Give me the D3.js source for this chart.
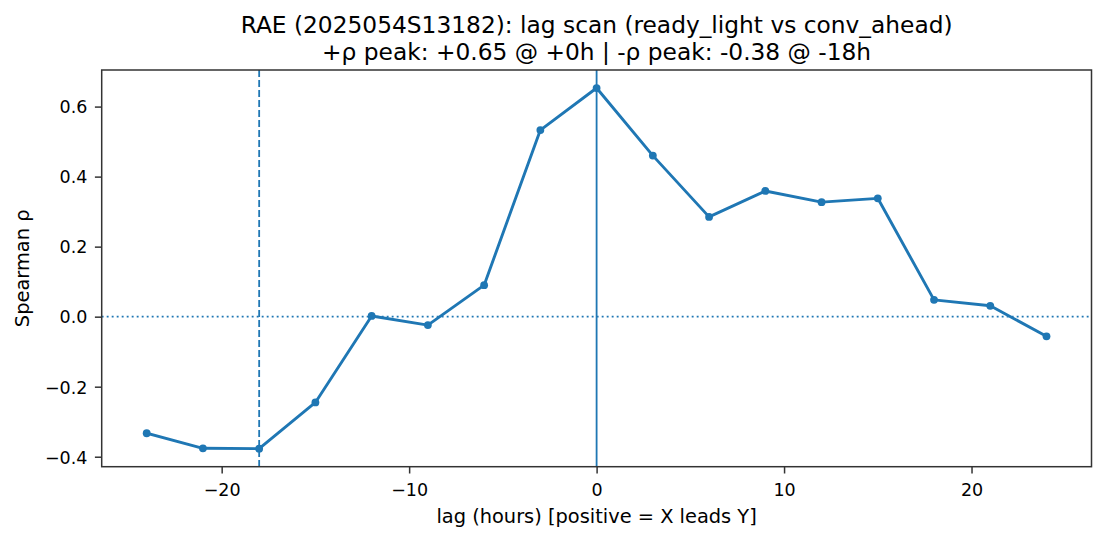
<!DOCTYPE html>
<html>
<head>
<meta charset="utf-8">
<script src="https://cdn.jsdelivr.net/npm/d3@7"></script>
<style>
  html, body { margin: 0; padding: 0; background: #fff; }
  svg { display: block; font-family: "DejaVu Sans", sans-serif; }
</style>
</head>
<body>
<svg id="chart" width="1105" height="540"></svg>
<script>
// ---- data ----
const lags = [-24, -21, -18, -15, -12, -9, -6, -3, 0, 3, 6, 9, 12, 15, 18, 21, 24];
const rho = [-0.333, -0.376, -0.377, -0.245, 0.002, -0.024, 0.090, 0.533, 0.653,
             0.460, 0.285, 0.359, 0.327, 0.338, 0.048, 0.031, -0.056];
const xTicks = [-20, -10, 0, 10, 20];
const yTicks = [-0.4, -0.2, 0.0, 0.2, 0.4, 0.6];
const posPeakLag = 0;
const negPeakLag = -18;
const titleLines = [
  "RAE (2025054S13182): lag scan (ready_light vs conv_ahead)",
  "+\u03c1 peak: +0.65 @ +0h | -\u03c1 peak: -0.38 @ -18h"
];
const xLabel = "lag (hours) [positive = X leads Y]";
const yLabel = "Spearman \u03c1";

// ---- layout ----
const W = 1105, H = 540;
const L = 101.7, R = 1091.5, T = 70, B = 466.7;
const blue = "#1f77b4";
const axisCol = "#333333";

const svg = d3.select("#chart");

function padDomain(vals) {
  const [lo, hi] = d3.extent(vals);
  const m = (hi - lo) * 0.05;
  return [lo - m, hi + m];
}

const x = d3.scaleLinear().domain(padDomain(lags)).range([L, R]);
const y = d3.scaleLinear().domain(padDomain(rho)).range([B, T]);

const fmtMinus = s => s.replace("-", "\u2212");

svg.append("defs").append("clipPath").attr("id", "clip")
  .append("rect").attr("x", L).attr("y", T).attr("width", R - L).attr("height", B - T);

const plot = svg.append("g").attr("clip-path", "url(#clip)");

// reference lines
plot.append("line")
  .attr("x1", L).attr("x2", R).attr("y1", y(0)).attr("y2", y(0))
  .attr("stroke", blue).attr("stroke-width", 1.7)
  .attr("stroke-dasharray", "1.9,3.1");

plot.append("line")
  .attr("x1", x(posPeakLag)).attr("x2", x(posPeakLag)).attr("y1", T).attr("y2", B)
  .attr("stroke", blue).attr("stroke-width", 1.8);

plot.append("line")
  .attr("x1", x(negPeakLag)).attr("x2", x(negPeakLag)).attr("y1", T).attr("y2", B)
  .attr("stroke", blue).attr("stroke-width", 1.8)
  .attr("stroke-dasharray", "7,3");

// data line
const line = d3.line().x((d, i) => x(lags[i])).y(d => y(d));
plot.append("path").datum(rho)
  .attr("d", line)
  .attr("fill", "none")
  .attr("stroke", blue)
  .attr("stroke-width", 2.9)
  .attr("stroke-linejoin", "round")
  .attr("stroke-linecap", "square");

plot.selectAll("circle.pt").data(rho).enter().append("circle")
  .attr("class", "pt")
  .attr("cx", (d, i) => x(lags[i]))
  .attr("cy", d => y(d))
  .attr("r", 3.9)
  .attr("fill", blue);

// axes
const xAxis = d3.axisBottom(x).tickValues(xTicks).tickSizeOuter(0).tickSize(6.8).tickPadding(5)
  .tickFormat(d => fmtMinus(d3.format("d")(d)));
const yAxis = d3.axisLeft(y).tickValues(yTicks).tickSizeOuter(0).tickSize(6.8).tickPadding(7.5)
  .tickFormat(d => fmtMinus(d3.format(".1f")(d)));

const gx = svg.append("g").attr("transform", `translate(0,${B})`).call(xAxis);
const gy = svg.append("g").attr("transform", `translate(${L},0)`).call(yAxis);
[gx, gy].forEach(g => {
  g.select(".domain").remove();
  g.selectAll(".tick line").attr("stroke", axisCol).attr("stroke-width", 1.5);
  g.selectAll(".tick text").attr("fill", "#000").style("font-size", "17.5px")
    .style("font-family", "'DejaVu Sans', sans-serif");
});
gx.selectAll(".tick text").attr("dy", null).attr("y", 29);
gy.selectAll(".tick text").attr("dy", "0.36em");

// spines
svg.append("rect")
  .attr("x", L).attr("y", T).attr("width", R - L).attr("height", B - T)
  .attr("fill", "none").attr("stroke", axisCol).attr("stroke-width", 1.5);

// labels
svg.append("text")
  .attr("x", (L + R) / 2).attr("y", 523)
  .attr("text-anchor", "middle")
  .style("font-size", "19.4px")
  .text(xLabel);

svg.append("text")
  .attr("transform", `translate(28.5,${(T + B) / 2}) rotate(-90)`)
  .attr("text-anchor", "middle")
  .style("font-size", "19.4px")
  .text(yLabel);

svg.selectAll("text.title").data(titleLines).enter().append("text")
  .attr("class", "title")
  .attr("x", (L + R) / 2)
  .attr("y", (d, i) => 32.5 + i * 27)
  .attr("text-anchor", "middle")
  .style("font-size", "23.3px")
  .text(d => d);
</script>
</body>
</html>
